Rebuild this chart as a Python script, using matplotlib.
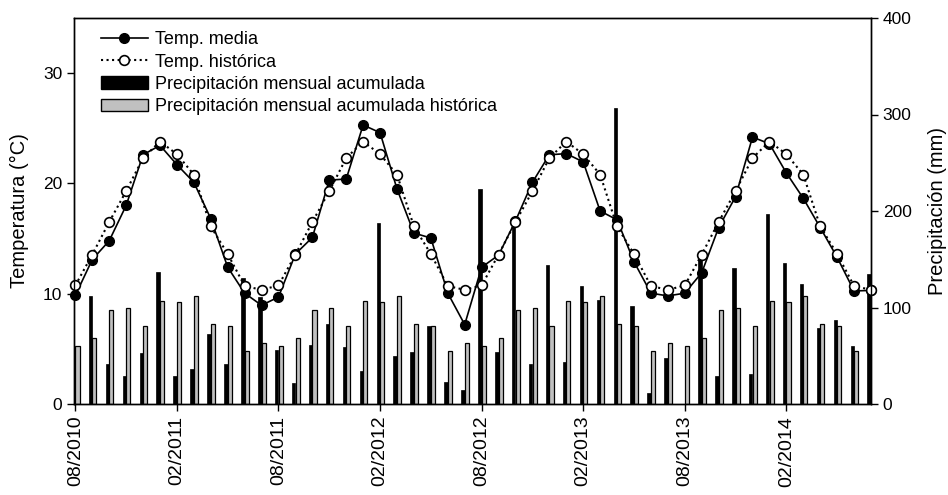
import numpy as np
import matplotlib
matplotlib.use("Agg")
import matplotlib.pyplot as plt
from matplotlib.lines import Line2D
from matplotlib.patches import Patch

plt.rcParams['font.family'] = ['Liberation Sans', 'DejaVu Sans']

# monthly data, 08/2010 .. 07/2014
temp_media = [9.85, 13.1, 14.8, 18.0, 22.6, 23.45, 21.7, 20.1, 16.8, 12.4, 10.05, 8.95,
              9.7, 13.6, 15.1, 20.3, 20.4, 25.3, 24.6, 19.5, 15.5, 15.05, 10.05, 7.2,
              12.4, 13.5, 16.6, 20.1, 22.6, 22.7, 21.95, 17.5, 16.7, 12.9, 10.05, 9.8,
              10.05, 11.9, 16.0, 18.8, 24.2, 23.6, 20.95, 18.65, 16.0, 13.3, 10.25, 10.3]
temp_hist = [10.75, 13.55, 16.5, 19.3, 22.3, 23.8, 22.65, 20.8, 16.1, 13.6, 10.7, 10.35,
             10.75, 13.55, 16.5, 19.3, 22.3, 23.8, 22.65, 20.8, 16.1, 13.6, 10.7, 10.35,
             10.75, 13.55, 16.5, 19.3, 22.3, 23.8, 22.65, 20.8, 16.1, 13.6, 10.7, 10.35,
             10.75, 13.55, 16.5, 19.3, 22.3, 23.8, 22.65, 20.8, 16.1, 13.6, 10.7, 10.35]
precip = [0, 111.7, 41.6, 28.5, 52.7, 137, 28.5, 36.4, 72.4, 41.6, 130.8, 110.7,
          56, 21.6, 61.3, 82.7, 58.9, 33.7, 187.4, 49.6, 53.7, 81.3, 22.6, 14,
          223.3, 53.7, 190.8, 41.6, 144.2, 43.3, 122.5, 108, 307, 101.4, 11.2, 47.5,
          0, 152, 29.5, 141, 31.3, 197, 146, 124, 78.5, 86.9, 60, 134.5]
precip_hist = [60, 68, 97.6, 100, 81.3, 106.6, 105.5, 111.7, 82.7, 81.3, 54.7, 63,
               60, 68, 97.6, 100, 81.3, 106.6, 105.5, 111.7, 82.7, 81.3, 54.7, 63,
               60, 68, 97.6, 100, 81.3, 106.6, 105.5, 111.7, 82.7, 81.3, 54.7, 63,
               60, 68, 97.6, 100, 81.3, 106.6, 105.5, 111.7, 82.7, 81.3, 54.7, 63]
tick_labels = ['08/2010', '02/2011', '08/2011', '02/2012',
               '08/2012', '02/2013', '08/2013', '02/2014']

x = np.arange(len(temp_media))

fig = plt.figure(figsize=(9.48, 4.95), dpi=100)
ax = fig.add_axes([74 / 948, 1 - 404 / 495, (871 - 74) / 948, (404 - 18) / 495])
ax2 = ax.twinx()

# precipitation bars (right axis)
w = 0.21
ax2.bar(x - w / 2, precip, width=w, color='black', edgecolor='black', linewidth=0.5)
ax2.bar(x + w / 2 + 0.02, precip_hist, width=w + 0.03, color='#c0c0c0', edgecolor='black', linewidth=0.9)
ax2.set_ylim(0, 400)
ax2.set_yticks([0, 100, 200, 300, 400])
ax2.set_ylabel('Precipitación (mm)', fontsize=14.5, labelpad=12)

# temperatures (left axis), drawn above bars
ax.set_zorder(ax2.get_zorder() + 1)
ax.patch.set_visible(False)
ax.plot(x, temp_media, '-', color='black', lw=1.2, marker='o', ms=7,
        mfc='black', mec='black', clip_on=False)
ax.plot(x, temp_hist, ':', color='black', lw=1.5, marker='o', ms=7,
        mfc='white', mec='black', mew=1.2, clip_on=False)
ax.set_ylim(0, 35)
ax.set_yticks([0, 10, 20, 30])
ax.set_ylabel('Temperatura (°C)', fontsize=14.5, labelpad=10)
ax.set_xlim(-0.08, 47.0)
ax.set_xticks(np.arange(0, 48, 6))
ax.set_xticklabels(tick_labels, rotation=90)

for a in (ax, ax2):
    a.tick_params(labelsize=12.5, length=5, width=1)
    for s in a.spines.values():
        s.set_linewidth(1)
ax.tick_params(axis='x', labelsize=14)

handles = [
    Line2D([], [], color='black', lw=1.2, marker='o', ms=7, mfc='black'),
    Line2D([], [], color='black', lw=1.5, ls=':', marker='o', ms=7, mfc='white', mew=1.2),
    Patch(facecolor='black', edgecolor='black'),
    Patch(facecolor='#c0c0c0', edgecolor='black', linewidth=1),
]
labels = ['Temp. media', 'Temp. histórica', 'Precipitación mensual acumulada',
          'Precipitación mensual acumulada histórica']
ax.legend(handles, labels, loc='upper left', bbox_to_anchor=(0.013, 1.008), frameon=False,
          fontsize=13, handlelength=2.6, labelspacing=0.3, handletextpad=0.4,
          borderpad=0.4)

fig.savefig('out.png', dpi=100)
